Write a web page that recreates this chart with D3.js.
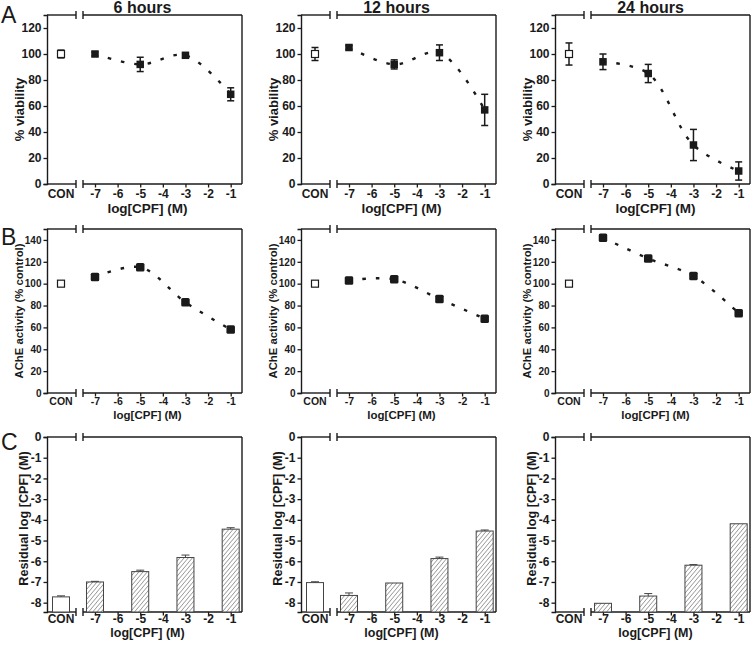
<!DOCTYPE html>
<html><head><meta charset="utf-8">
<script src="https://cdn.jsdelivr.net/npm/d3@7"></script>
<style>
html,body{margin:0;padding:0;background:#fff;}
svg text{font-family:"Liberation Sans",Arial,sans-serif;}
</style></head>
<body>
<svg id="chart" width="753" height="645"></svg>
<script>
// ---------- data ----------
const hours = ["6 hours", "12 hours", "24 hours"];
const doses = [-7, -5, -3, -1];
const xTicks = [-7, -6, -5, -4, -3, -2, -1];
const conLabel = "CON";

// Row A: % viability
const viaCon = [100, 100, 100];
const viaConErr = [3, 5, 8.5];
const via6 = [100, 92, 99, 69];
const via6Err = [1.5, 5.5, 1.5, 5];
const via12 = [105, 92, 101, 57];
const via12Err = [1.5, 3.5, 6, 12];
const via24 = [94, 85, 30, 10];
const via24Err = [6, 7, 12, 7];
const viaTicks = [0, 20, 40, 60, 80, 100, 120];

// Row B: AChE activity
const acheCon = [100, 100, 100];
const acheConErr = [2, 2, 2];
const ache6 = [106, 115, 83, 58];
const ache6Err = [2, 2, 1.5, 1.5];
const ache12 = [103, 104, 86, 68];
const ache12Err = [2.5, 2, 2, 1.5];
const ache24 = [142, 123, 107, 73];
const ache24Err = [2, 2.5, 2, 1.5];
const acheTicks = [0, 20, 40, 60, 80, 100, 120, 140];

// Row C: residual log [CPF]
const resCon = [-7.72, -7.03, null];
const resConErr = [0.05, 0.04, 0];
const res6 = [-7.0, -6.5, -5.82, -4.45];
const res6Err = [0.03, 0.07, 0.12, 0.07];
const res12 = [-7.65, -7.05, -5.87, -4.54];
const res12Err = [0.12, 0, 0.07, 0.05];
const res24 = [-8.03, -7.68, -6.19, -4.19];
const res24Err = [0, 0.12, 0.03, 0];
const resTicks = [0, -1, -2, -3, -4, -5, -6, -7, -8];

// ---------- layout ----------
const svg = d3.select("#chart");
const colLeft = [47, 301, 555];
const panelW = 195;
const rows = [
  {top: 15, bottom: 184, domain: [0, 130], ticks: viaTicks, title: "% viability", tsize: 13, tdx: 23, tdy: 10,
   xl: 13.5, tick: 12, ytick: 12, xtb: 14, xtt: 29, letter: "A", ly: 23},
  {top: 229, bottom: 393, domain: [0, 150], ticks: acheTicks, title: "AChE activity (% control)", tsize: 11.3, tdx: 24, tdy: 0,
   xl: 11.5, tick: 10.5, ytick: 10, xtb: 12, xtt: 25.5, letter: "B", ly: 245},
  {top: 437, bottom: 612, domain: [-8.45, 0], ticks: resTicks, title: "Residual log [CPF] (M)", tsize: 12.6, tdx: 19, tdy: -6,
   xl: 12.5, tick: 12, ytick: 12, xtb: 10.5, xtt: 25, letter: "C", ly: 450}
];
const series = [
  [via6, via12, via24], [ache6, ache12, ache24], [res6, res12, res24]
];
const seriesErr = [
  [via6Err, via12Err, via24Err], [ache6Err, ache12Err, ache24Err], [res6Err, res12Err, res24Err]
];
const conVals = [viaCon, acheCon, resCon];
const conErrs = [viaConErr, acheConErr, resConErr];

const defs = svg.append("defs");
const pat = defs.append("pattern").attr("id", "hatch")
  .attr("patternUnits", "userSpaceOnUse").attr("width", 3.2).attr("height", 3.2)
  .attr("patternTransform", "rotate(40)");
pat.append("rect").attr("width", 3.2).attr("height", 3.2).attr("fill", "#fff");
pat.append("line").attr("x1", 0).attr("y1", 0).attr("x2", 0).attr("y2", 3.2)
  .attr("stroke", "#6a6a6a").attr("stroke-width", 1.1);

const ink = "#1a1a1a";

rows.forEach((row, r) => {
  // panel letter
  svg.append("text").attr("x", 1).attr("y", row.ly).attr("font-size", 23)
    .attr("fill", ink).text(row.letter);

  colLeft.forEach((left, c) => {
    const right = left + panelW;
    const brk1 = left + 29, brk2 = left + 36;
    const y = d3.scaleLinear().domain(row.domain).range([row.bottom, row.top]);
    const x = d3.scaleLinear().domain([-7.53, -0.5]).range([brk2, right]);
    const conX = left + 14;
    const g = svg.append("g");

    // frame with break
    const frame = g.append("g").attr("stroke", ink).attr("stroke-width", 1.4).attr("fill", "none");
    [row.top, row.bottom].forEach(yy => {
      frame.append("line").attr("x1", left).attr("x2", brk1).attr("y1", yy).attr("y2", yy);
      frame.append("line").attr("x1", brk2).attr("x2", right).attr("y1", yy).attr("y2", yy);
      frame.append("line").attr("x1", brk1).attr("x2", brk1).attr("y1", yy - 4).attr("y2", yy + 4);
      frame.append("line").attr("x1", brk2).attr("x2", brk2).attr("y1", yy - 4).attr("y2", yy + 4);
    });
    frame.append("line").attr("x1", right).attr("x2", right).attr("y1", row.top).attr("y2", row.bottom);

    // y axis
    const yAxis = d3.axisLeft(y).tickValues(row.ticks).tickSize(3.5).tickPadding(2).tickFormat(d3.format("d"));
    const ya = g.append("g").attr("transform", `translate(${left},0)`).call(yAxis);
    ya.select(".domain").attr("stroke", ink).attr("stroke-width", 1.4);
    ya.selectAll(".tick line").attr("stroke", ink).attr("stroke-width", 1.3);
    ya.selectAll("text").attr("font-size", row.ytick).attr("font-weight", "bold").attr("fill", ink)
      .text(d => d < 0 ? "-" + Math.abs(d) : d);

    // x axis (right segment)
    const xAxis = d3.axisBottom(x).tickValues(xTicks).tickSize(3.5).tickFormat(d => "-" + Math.abs(d));
    const xa = g.append("g").attr("transform", `translate(0,${row.bottom})`).call(xAxis);
    xa.select(".domain").remove();
    xa.selectAll(".tick line").attr("stroke", ink).attr("stroke-width", 1.3);
    xa.selectAll("text").attr("font-size", row.tick).attr("font-weight", "bold").attr("fill", ink)
      .attr("y", row.xtb).attr("dy", null);
    g.append("text").attr("x", conX).attr("y", row.bottom + row.xtb)
      .attr("text-anchor", "middle").attr("font-size", row.tick).attr("font-weight", "bold")
      .attr("fill", ink).text(conLabel);

    // x title
    g.append("text").attr("x", left + panelW / 2 + 3).attr("y", row.bottom + row.xtt)
      .attr("text-anchor", "middle").attr("font-size", row.xl).attr("font-weight", "bold")
      .attr("fill", ink).text("log[CPF] (M)");

    // y title
    const ty = (row.top + row.bottom) / 2 + row.tdy;
    g.append("text").attr("transform", `translate(${left - row.tdx},${ty}) rotate(-90)`)
      .attr("text-anchor", "middle").attr("font-size", row.tsize).attr("font-weight", "bold")
      .attr("fill", ink).text(row.title);

    // column title
    if (r === 0) {
      svg.append("text").attr("x", left + panelW / 2 - 2).attr("y", 13)
        .attr("text-anchor", "middle").attr("font-size", 16).attr("font-weight", "bold")
        .attr("fill", ink).text(hours[c]);
    }

    const vals = series[r][c], errs = seriesErr[r][c];
    const pts = doses.map((d, i) => ({d, v: vals[i], e: errs[i]}));

    if (r < 2) {
      // fitted dotted curve
      const line = d3.line().x(p => x(p.d)).y(p => y(p.v)).curve(d3.curveCatmullRom.alpha(0.5));
      g.append("path").datum(pts).attr("d", line).attr("fill", "none")
        .attr("stroke", ink).attr("stroke-width", 2.4).attr("stroke-dasharray", "3.5,10");

      // error bars
      const eb = (cx, v, e) => {
        if (!e) return;
        g.append("line").attr("x1", cx).attr("x2", cx).attr("y1", y(v - e)).attr("y2", y(v + e))
          .attr("stroke", ink).attr("stroke-width", 1.5);
        [v - e, v + e].forEach(t => g.append("line").attr("x1", cx - 3.5).attr("x2", cx + 3.5)
          .attr("y1", y(t)).attr("y2", y(t)).attr("stroke", ink).attr("stroke-width", 1.5));
      };
      pts.forEach(p => eb(x(p.d), p.v, p.e));
      eb(conX, conVals[r][c], conErrs[r][c]);
      const s = r === 0 ? 7.5 : 8.5;
      g.selectAll(".pt").data(pts).join("rect")
        .attr("x", p => x(p.d) - s / 2).attr("y", p => y(p.v) - s / 2)
        .attr("width", s).attr("height", s).attr("rx", r === 1 ? 1.5 : 0).attr("fill", ink);
      g.append("rect").attr("x", conX - 3.5).attr("y", y(conVals[r][c]) - 3.5)
        .attr("width", 7).attr("height", 7).attr("fill", "#fff").attr("stroke", ink).attr("stroke-width", 1.2);
    } else {
      const bw = 17;
      const base = y(row.domain[0]);
      const bar = (cx, v, e, fill) => {
        if (v === null || v === undefined) return;
        g.append("rect").attr("x", cx - bw / 2).attr("y", y(v)).attr("width", bw)
          .attr("height", base - y(v)).attr("fill", fill).attr("stroke", "#444").attr("stroke-width", 1);
        if (e) {
          g.append("line").attr("x1", cx).attr("x2", cx).attr("y1", y(v)).attr("y2", y(v + e))
            .attr("stroke", "#444").attr("stroke-width", 1);
          g.append("line").attr("x1", cx - 4).attr("x2", cx + 4).attr("y1", y(v + e)).attr("y2", y(v + e))
            .attr("stroke", "#444").attr("stroke-width", 1);
        }
      };
      bar(conX, conVals[r][c], conErrs[r][c], "#fff");
      pts.forEach(p => bar(x(p.d), p.v, p.e, "url(#hatch)"));
    }
  });
});
</script>
</body></html>
